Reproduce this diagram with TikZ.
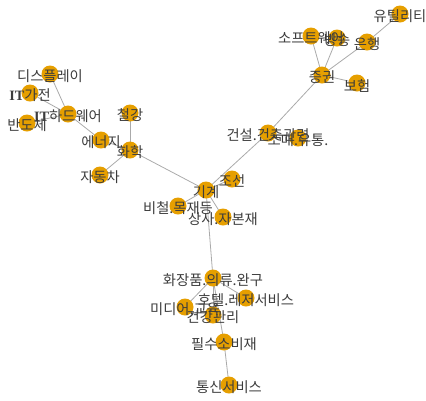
\documentclass[tikz,border=0pt]{standalone}
\usepackage{fontspec}
\newfontfamily\kr{Noto Sans CJK KR}
\newfontfamily\lat{Liberation Serif}
\definecolor{dotc}{RGB}{230,159,0}
\definecolor{edgec}{RGB}{170,170,170}
\definecolor{txtc}{RGB}{60,60,60}
\tikzset{
  edge/.style={draw=edgec,line width=0.8pt},
  dot/.style={circle,fill=dotc,draw=none,minimum size=17pt,inner sep=0pt},
  lbl/.style={font=\kr\fontsize{14.3}{16}\selectfont,text=txtc,inner sep=0pt,yshift=-2.5pt}
}
\newcommand{\ITtxt}{{\lat\bfseries IT}}
\begin{document}
\begin{tikzpicture}[x=1pt,y=-1pt]
\useasboundingbox (0,0) rectangle (426,400);
% positions
\coordinate (disp) at (50,74);
\coordinate (itg) at (30,93);
\coordinate (ithw) at (68,114);
\coordinate (semi) at (27,123);
\coordinate (ener) at (101,140);
\coordinate (steel) at (130,113);
\coordinate (chem) at (130,150);
\coordinate (auto) at (100,175);
\coordinate (util) at (400,14);
\coordinate (sw) at (311,36);
\coordinate (bc) at (337,38);
\coordinate (bank) at (367,42);
\coordinate (sec) at (322,75);
\coordinate (ins) at (357,83);
\coordinate (cons) at (268,133);
\coordinate (ret) at (298,138);
\coordinate (ship) at (232,179);
\coordinate (mach) at (206,190);
\coordinate (nonf) at (178,206);
\coordinate (trade) at (223,217);
\coordinate (cosm) at (213,278);
\coordinate (hotel) at (246,298);
\coordinate (media) at (185,307);
\coordinate (health) at (213,315);
\coordinate (stap) at (224,342);
\coordinate (tele) at (229,385);
% edges
\draw[edge] (disp) -- (ithw);
\draw[edge] (itg) -- (ithw);
\draw[edge] (semi) -- (ithw);
\draw[edge] (ithw) -- (ener);
\draw[edge] (ener) -- (chem);
\draw[edge] (steel) -- (chem);
\draw[edge] (auto) -- (chem);
\draw[edge] (chem) -- (mach);
\draw[edge] (mach) -- (ship);
\draw[edge] (mach) -- (cons);
\draw[edge] (cons) -- (ret);
\draw[edge] (cons) -- (sec);
\draw[edge] (mach) -- (nonf);
\draw[edge] (mach) -- (trade);
\draw[edge] (mach) -- (cosm);
\draw[edge] (sec) -- (sw);
\draw[edge] (sec) -- (bc);
\draw[edge] (sec) -- (bank);
\draw[edge] (sec) -- (ins);
\draw[edge] (bank) -- (util);
\draw[edge] (cosm) -- (media);
\draw[edge] (cosm) -- (hotel);
\draw[edge] (cosm) -- (health);
\draw[edge] (cosm) -- (stap);
\draw[edge] (stap) -- (tele);
% dots
\foreach \n in {disp,itg,ithw,semi,ener,steel,chem,auto,util,sw,bc,bank,sec,ins,cons,ret,ship,mach,nonf,trade,cosm,hotel,media,health,stap,tele}
  \node[dot] (d-\n) at (\n) {};
% labels
\node[lbl] (l-disp) at (disp) {디스플레이};
\node[lbl] (l-itg) at (itg) {\ITtxt 가전};
\node[lbl] (l-ithw) at (ithw) {\ITtxt 하드웨어};
\node[lbl] (l-semi) at (semi) {반도체};
\node[lbl] (l-ener) at (ener) {에너지};
\node[lbl] (l-steel) at (steel) {철강};
\node[lbl] (l-chem) at (chem) {화학};
\node[lbl] (l-auto) at (auto) {자동차};
\node[lbl] (l-util) at (util) {유틸리티};
\node[lbl] (l-sw) at (sw) {소프트웨어};
\node[lbl] (l-bc) at (bc) {방송};
\node[lbl] (l-bank) at (bank) {은행};
\node[lbl] (l-sec) at (sec) {증권};
\node[lbl] (l-ins) at (ins) {보험};
\node[lbl] (l-cons) at (cons) {건설.건축관련};
\node[lbl] (l-ret) at (ret) {소매.유통.};
\node[lbl] (l-ship) at (ship) {조선};
\node[lbl] (l-mach) at (mach) {기계};
\node[lbl] (l-nonf) at (nonf) {비철.목재등};
\node[lbl] (l-trade) at (trade) {상사.자본재};
\node[lbl] (l-cosm) at (cosm) {화장품.의류.완구};
\node[lbl] (l-hotel) at (hotel) {호텔.레저서비스};
\node[lbl] (l-media) at (media) {미디어,교육};
\node[lbl] (l-health) at (health) {건강관리};
\node[lbl] (l-stap) at (stap) {필수소비재};
\node[lbl] (l-tele) at (tele) {통신서비스};
\end{tikzpicture}
\end{document}
